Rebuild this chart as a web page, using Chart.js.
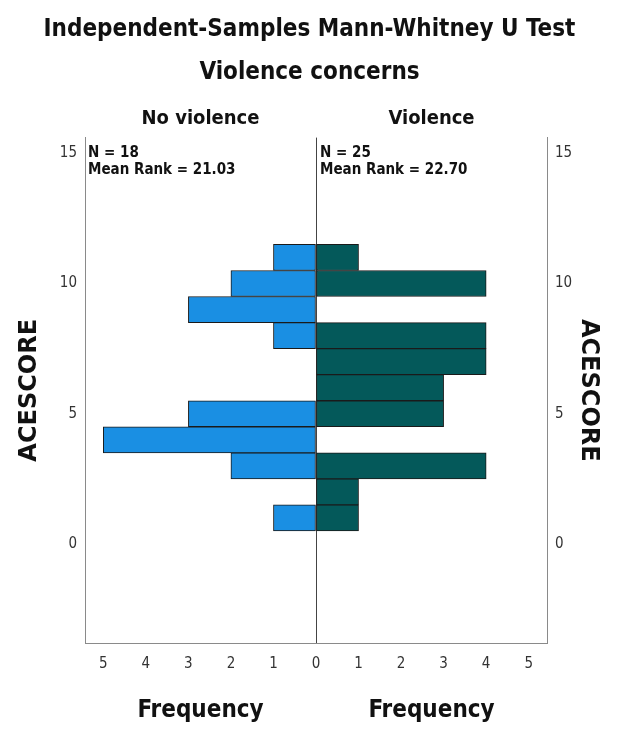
<!DOCTYPE html>
<html>
<head>
<meta charset="utf-8">
<script src="https://cdn.jsdelivr.net/npm/chart.js@4.4.1/dist/chart.umd.min.js"></script>
<style>
  html, body { margin: 0; padding: 0; background: #fff; }
</style>
</head>
<body>
<canvas id="chart" width="619" height="729"></canvas>
<script>
// ACE score bins and frequency counts per group
const scores = [1, 2, 3, 4, 5, 6, 7, 8, 9, 10, 11];
const noViolence = [1, 0, 2, 5, 3, 0, 0, 1, 3, 2, 1];
const violence = [1, 1, 4, 0, 3, 3, 4, 4, 0, 4, 1];

const groups = ['No violence', 'Violence'];
const groupN = [18, 25];
const meanRanks = ['21.03', '22.70'];

const freqTicks = [-5, -4, -3, -2, -1, 0, 1, 2, 3, 4, 5];
const scoreTicks = [0, 5, 10, 15];

const FONT = '"DejaVu Sans Condensed", "DejaVu Sans", sans-serif';

// left group is drawn to the negative side of the frequency axis
function toBars(counts, sign) {
  return scores
    .map((s, i) => ({ y: s, x: sign * counts[i] }))
    .filter(d => d.x !== 0);
}

const panelText = {
  id: 'panelText',
  afterDraw(chart) {
    const { ctx, chartArea: a, scales: { x, y } } = chart;
    const x0 = x.getPixelForValue(0);
    const centers = [(a.left + x0) / 2, (x0 + a.right) / 2];
    ctx.save();
    ctx.fillStyle = '#111';
    ctx.textAlign = 'center';
    ctx.textBaseline = 'middle';

    ctx.font = 'bold 20px ' + FONT;
    groups.forEach((g, i) => ctx.fillText(g, centers[i], a.top - 19));

    ctx.font = 'bold 24px ' + FONT;
    centers.forEach(c => ctx.fillText('Frequency', c, a.bottom + 68));

    ctx.textAlign = 'left';
    ctx.font = 'bold 15px ' + FONT;
    const starts = [a.left + 3, x0 + 4];
    const top = y.getPixelForValue(15);
    starts.forEach((sx, i) => {
      ctx.fillText('N = ' + groupN[i], sx, top);
      ctx.fillText('Mean Rank = ' + meanRanks[i], sx, top + 17);
    });
    ctx.restore();
  }
};

const yCommon = {
  type: 'linear',
  min: -3.8,
  max: 15.6,
  offset: false,
  afterBuildTicks: s => { s.ticks = scoreTicks.map(v => ({ value: v })); },
  grid: { display: false, drawTicks: false, offset: false },
  border: { color: '#8a8a8a', width: 1 },
  ticks: { color: '#333', padding: 8, font: { family: FONT, size: 15 } },
  title: {
    display: true,
    text: 'ACESCORE',
    color: '#111',
    font: { family: '"DejaVu Sans", sans-serif', size: 24, weight: 'bold' }
  }
};

new Chart(document.getElementById('chart'), {
  type: 'bar',
  data: {
    datasets: [{
      label: groups[0],
      data: toBars(noViolence, -1),
      backgroundColor: '#1a8fe3',
      borderColor: '#1a1a1a',
      borderWidth: 1,
      borderSkipped: false
    }, {
      label: groups[1],
      data: toBars(violence, 1),
      backgroundColor: '#04595a',
      borderColor: '#1a1a1a',
      borderWidth: 1,
      borderSkipped: false
    }]
  },
  options: {
    indexAxis: 'y',
    responsive: false,
    animation: false,
    grouped: false,
    barPercentage: 1,
    categoryPercentage: 1,
    layout: { padding: 0 },
    plugins: {
      legend: { display: false },
      tooltip: { enabled: false },
      title: {
        display: true,
        text: 'Independent-Samples Mann-Whitney U Test',
        color: '#111',
        font: { family: FONT, size: 24, weight: 'bold' },
        padding: { top: 15, bottom: 15 }
      },
      subtitle: {
        display: true,
        text: 'Violence concerns',
        color: '#111',
        font: { family: FONT, size: 24, weight: 'bold' },
        padding: { top: 0, bottom: 50 }
      }
    },
    scales: {
      x: {
        type: 'linear',
        min: -5.43,
        max: 5.43,
        afterBuildTicks: s => { s.ticks = freqTicks.map(v => ({ value: v })); },
        afterFit: s => { s.height = 86; },
        grid: {
          drawTicks: false,
          color: c => (c.tick && c.tick.value === 0 ? '#444' : 'rgba(0,0,0,0)')
        },
        border: { color: '#8a8a8a', width: 1 },
        ticks: {
          color: '#333',
          padding: 12,
          font: { family: FONT, size: 15 },
          callback: v => Math.abs(v)
        }
      },
      y: Object.assign({}, yCommon, {
        position: 'left',
        afterFit: s => { s.width = 85; },
        title: Object.assign({}, yCommon.title, { padding: { top: 15, bottom: 0 } })
      }),
      y2: Object.assign({}, yCommon, {
        position: 'right',
        afterFit: s => { s.width = 72; },
        title: Object.assign({}, yCommon.title, { padding: { top: 16, bottom: 0 } })
      })
    }
  },
  plugins: [panelText]
});
</script>
</body>
</html>
